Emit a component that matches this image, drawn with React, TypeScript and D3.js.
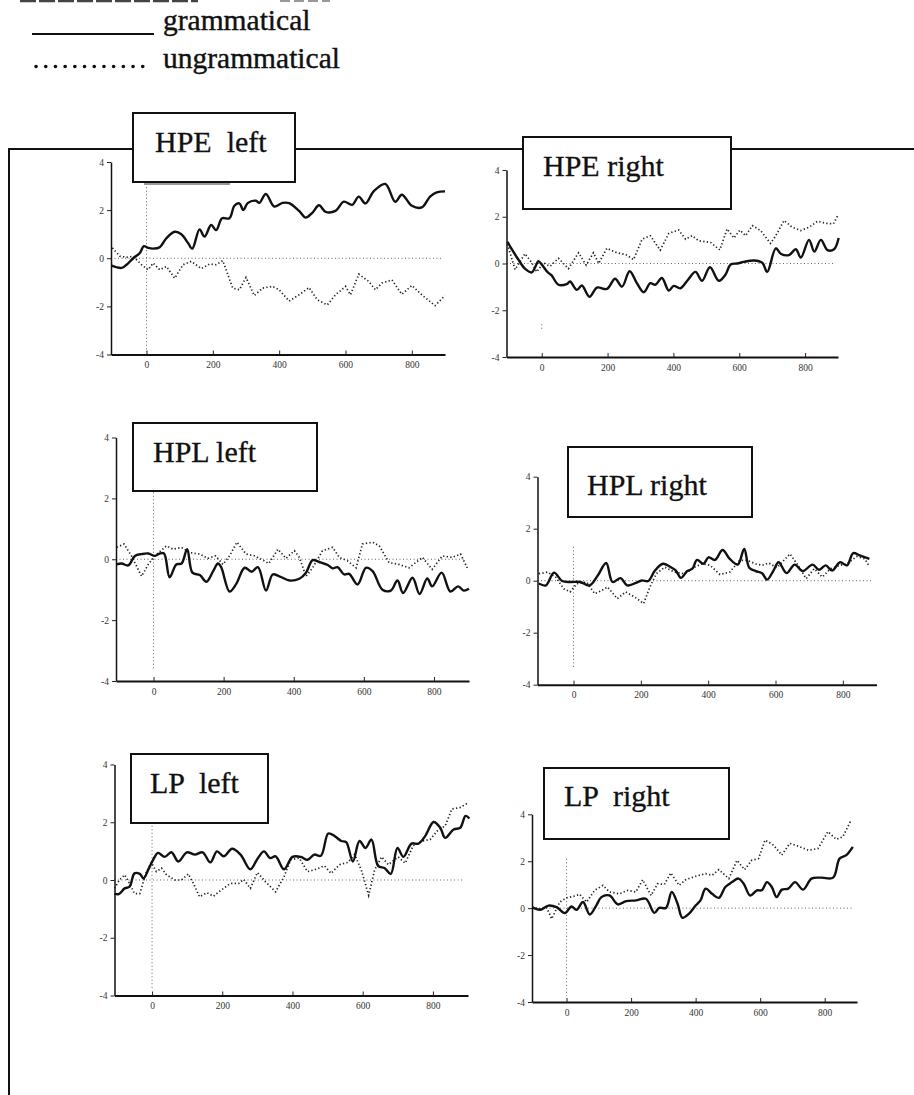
import React, { useEffect, useRef } from 'react';
import * as d3 from 'd3';

type Pt = [number, number]; // [ms, µV]

const panelTitles = ['HPE  left', 'HPE right', 'HPL left', 'HPL right', 'LP  left', 'LP  right'];
const legendLabels = ['grammatical', 'ungrammatical'];
const timeTicks = [0, 200, 400, 600, 800];
const voltTicks = [-4, -2, 0, 2, 4];

// --- HPE left ---
const hpeLeftGram: Pt[] = [[-105,-0.31],[-75,-0.4],[-60,-0.27],[-40,0],[-20,0.22],[-8,0.5],[5,0.43],[20,0.4],[40,0.46],[60,0.83],[85,1.1],[105,1.0],[125,0.64],[138,0.4],[160,1.2],[175,0.9],[195,1.38],[210,1.17],[228,1.66],[250,1.66],[265,2.18],[280,2.28],[292,2.0],[305,2.29],[330,2.39],[340,2.3],[360,2.67],[385,2.15],[410,2.3],[430,2.29],[460,1.97],[480,1.69],[500,1.89],[520,2.2],[540,1.93],[570,1.97],[595,2.35],[620,2.22],[640,2.56],[660,2.28],[685,2.78],[720,3.09],[750,2.35],[770,2.64],[800,2.18],[830,2.11],[855,2.56],[875,2.74],[900,2.78]];
const hpeLeftUngram: Pt[] = [[-103,0.43],[-80,0.08],[-60,0.04],[-40,0.08],[-15,-0.27],[5,-0.48],[20,-0.2],[40,-0.48],[60,-0.34],[85,-0.83],[110,-0.27],[135,-0.13],[165,-0.43],[190,-0.24],[210,-0.27],[230,-0.1],[260,-1.24],[280,-1.31],[300,-0.8],[325,-1.55],[350,-1.24],[380,-1.17],[400,-1.31],[430,-1.78],[460,-1.52],[490,-1.22],[515,-1.73],[545,-1.94],[570,-1.52],[600,-1.17],[615,-1.52],[640,-0.66],[670,-0.96],[690,-1.31],[710,-1.03],[740,-0.9],[770,-1.5],[800,-1.13],[830,-1.52],[870,-1.97],[900,-1.55]];

// --- HPE right ---
const hpeRightGram: Pt[] = [[-104,0.93],[-91,0.61],[-71,0.17],[-51,-0.22],[-30,-0.38],[-20,-0.16],[-10,0.1],[0,-0.04],[17,-0.36],[30,-0.51],[51,-0.91],[76,-0.88],[86,-0.77],[107,-1.13],[122,-0.94],[145,-1.42],[168,-1.03],[198,-1.09],[223,-0.65],[244,-0.99],[267,-0.33],[289,-0.84],[310,-1.23],[330,-0.84],[345,-0.91],[365,-0.62],[386,-1.16],[401,-0.96],[421,-1.06],[442,-0.74],[467,-0.36],[487,-0.74],[511,-0.16],[538,-0.74],[558,-0.48],[574,-0.04],[594,0],[614,0.07],[645,0.13],[670,0.03],[685,-0.36],[711,0.65],[726,0.42],[751,0.36],[772,0.61],[787,0.25],[812,1.01],[828,0.51],[848,1.01],[868,0.57],[888,0.61],[902,1.09]];
const hpeRightUngram: Pt[] = [[-104,0.83],[-81,-0.26],[-51,0.42],[-30,0.03],[-15,-0.36],[5,0.03],[25,-0.12],[51,0.22],[81,-0.22],[112,0.46],[135,-0.07],[157,0.46],[173,0],[198,0.65],[228,0.46],[254,0.39],[279,0.17],[305,1.04],[330,1.19],[360,0.57],[386,1.29],[416,1.43],[437,1.04],[457,1.19],[477,0.97],[513,0.9],[541,0.58],[563,1.48],[584,1.09],[602,1.43],[619,1.19],[640,1.62],[665,1.41],[695,0.86],[711,1.19],[736,1.84],[761,1.55],[787,1.41],[812,1.55],[838,1.81],[863,1.72],[886,1.7],[901,2.1]];

// --- HPL left ---
const hplLeftGram: Pt[] = [[-106,-0.17],[-91,-0.14],[-72,-0.2],[-53,0.11],[-34,0.17],[-15,0.19],[4,0.11],[18,0.19],[30,0.19],[46,-0.59],[65,-0.17],[80,-0.14],[96,0.33],[111,-0.44],[132,-0.52],[151,-0.74],[170,-0.39],[184,-0.14],[193,-0.26],[217,-1.06],[236,-0.81],[260,-0.28],[280,-0.41],[298,-0.26],[321,-1.03],[340,-0.5],[359,-0.56],[388,-0.7],[416,-0.64],[435,-0.44],[454,-0.03],[473,-0.09],[497,-0.19],[511,-0.3],[525,-0.26],[544,-0.5],[558,-0.48],[582,-0.83],[606,-0.28],[625,-0.39],[653,-1.0],[677,-1.03],[696,-0.7],[712,-1.11],[739,-0.61],[759,-1.14],[781,-0.63],[795,-0.89],[822,-0.44],[847,-1.06],[869,-0.89],[885,-1.03],[900,-0.97]];
const hplLeftUngram: Pt[] = [[-105,0.39],[-84,0.5],[-63,0.11],[-34,-0.56],[-15,-0.17],[4,0.11],[37,0.44],[56,0.33],[80,0.39],[103,0.22],[132,0.17],[155,0.03],[177,0.11],[198,-0.17],[217,0.11],[238,0.56],[264,0.17],[288,0.11],[312,-0.03],[329,-0.14],[355,0.33],[378,0.03],[402,0.28],[416,0.06],[435,-0.56],[454,-0.28],[482,0.28],[511,0.39],[530,0.06],[554,-0.06],[578,-0.28],[596,0.5],[625,0.56],[644,0.44],[672,-0.11],[700,-0.17],[729,-0.28],[767,0.06],[795,-0.33],[824,0.11],[852,0.06],[876,0.17],[895,-0.28]];

// --- HPL right ---
const hplRightGram: Pt[] = [[-103,-0.11],[-82,-0.18],[-58,0.31],[-34,-0.01],[-10,-0.05],[19,-0.05],[48,-0.18],[72,0.2],[97,0.68],[116,-0.05],[140,0.1],[159,-0.18],[184,-0.09],[203,0.01],[222,-0.01],[242,0.39],[266,0.65],[285,0.55],[304,0.39],[319,0.11],[338,0.37],[353,0.46],[367,0.8],[386,0.65],[401,0.9],[420,0.8],[443,1.18],[464,0.84],[488,0.62],[507,1.22],[522,0.5],[541,0.37],[560,0.29],[575,0.04],[594,0.39],[609,0.71],[633,0.29],[657,0.62],[681,0.37],[710,0.62],[729,0.42],[749,0.59],[768,0.39],[792,0.71],[812,0.59],[831,1.06],[850,0.97],[879,0.84]];
const hplRightUngram: Pt[] = [[-103,0.27],[-77,0.33],[-53,0.14],[-29,-0.31],[-10,-0.43],[10,-0.11],[39,-0.05],[63,-0.5],[82,-0.39],[101,-0.24],[130,-0.69],[155,-0.43],[184,-0.65],[208,-0.88],[227,-0.24],[246,0.27],[271,0.52],[300,0.33],[329,0.27],[357,0.5],[382,0.65],[406,0.59],[435,0.24],[464,0.33],[493,0.78],[517,0.78],[541,0.65],[560,0.59],[580,0.68],[604,0.5],[643,1.03],[667,0.59],[691,0.08],[715,0.46],[739,0.14],[763,0.46],[792,0.59],[812,0.65],[841,0.93],[865,0.84],[879,0.55]];

// --- LP left ---
const lpLeftGram: Pt[] = [[-107,-0.47],[-95,-0.49],[-78,-0.29],[-64,-0.23],[-50,0.23],[-35,0.21],[-24,0.06],[-11,0.35],[3,0.7],[17,0.94],[36,0.8],[55,0.96],[75,0.64],[99,0.96],[122,0.88],[144,0.96],[166,0.61],[185,0.99],[204,0.82],[228,1.08],[252,0.88],[280,0.37],[300,0.73],[319,0.99],[336,0.76],[352,0.82],[376,0.37],[400,0.8],[424,0.8],[443,0.7],[462,0.88],[481,0.84],[502,1.61],[520,1.52],[539,1.35],[553,1.31],[572,0.64],[591,1.35],[608,1.11],[625,1.4],[644,0.49],[663,0.41],[680,0.21],[699,1.11],[716,0.8],[739,1.26],[759,1.26],[778,1.52],[802,2.01],[821,1.81],[835,1.46],[859,1.75],[878,1.81],[893,2.22],[904,2.13]];
const lpLeftUngram: Pt[] = [[-107,-0.29],[-93,0],[-78,0.18],[-64,-0.12],[-50,-0.47],[-35,-0.47],[-16,0.29],[-2,0.61],[12,0.29],[27,0.41],[41,0.18],[65,0],[84,0],[103,0.21],[118,-0.12],[135,-0.58],[156,-0.44],[175,-0.56],[199,-0.33],[223,-0.12],[247,-0.12],[261,0.02],[280,-0.29],[300,0.26],[323,-0.06],[352,-0.41],[376,0.12],[395,0.7],[419,0.76],[443,0.29],[467,0.37],[491,0.49],[510,0.23],[534,0.53],[558,0.61],[577,0.88],[596,0.35],[617,-0.53],[634,0.35],[654,0.8],[673,0.53],[701,0.8],[721,0.58],[744,1.19],[768,1.35],[792,1.4],[816,1.75],[835,1.87],[854,2.46],[878,2.51],[902,2.69]];

// --- LP right ---
const lpRightGram: Pt[] = [[-106,0.04],[-82,-0.07],[-56,0.11],[-31,0.04],[-5,-0.21],[15,0.07],[31,-0.07],[51,0.26],[72,-0.27],[92,0.11],[108,0.47],[133,0.54],[159,0.16],[185,0.3],[215,0.33],[246,0.4],[272,-0.2],[287,0.01],[308,0.01],[326,0.69],[344,0.19],[359,-0.41],[379,-0.24],[400,0.11],[415,0.33],[431,0.83],[451,0.61],[472,0.44],[492,0.9],[513,1.11],[533,1.26],[549,1.04],[569,0.54],[590,0.76],[605,0.76],[621,1.11],[636,0.9],[651,0.47],[667,0.79],[687,0.83],[708,1.11],[733,0.79],[759,1.26],[790,1.3],[826,1.3],[846,2.11],[867,2.26],[887,2.61]];
const lpRightUngram: Pt[] = [[-106,0.04],[-82,-0.03],[-62,0.04],[-46,-0.46],[-21,0.26],[0,0.44],[21,0.5],[41,0.59],[62,0.26],[87,0.76],[113,0.97],[133,0.69],[164,0.61],[190,0.76],[215,0.69],[236,1.21],[262,0.54],[282,1.04],[303,1.01],[323,1.5],[349,0.97],[369,1.21],[400,1.36],[431,1.47],[451,1.4],[472,1.64],[503,1.26],[528,2.04],[552,1.64],[574,2.04],[595,2.11],[615,2.9],[641,2.69],[667,2.26],[692,2.76],[718,2.64],[749,2.47],[779,2.54],[810,3.26],[836,2.93],[856,3.04],[882,3.76]];

// extent of the dotted t = 0 marker in each panel (µV, top then bottom)
const onsetSpans: Pt[] = [[3.1, -3.9], [-2.6, -2.8], [2.2, -3.6], [1.3, -3.4], [2.0, -3.8], [2.1, -3.75]];

const grammaticalSeries = [hpeLeftGram, hpeRightGram, hplLeftGram, hplRightGram, lpLeftGram, lpRightGram];
const ungrammaticalSeries = [hpeLeftUngram, hpeRightUngram, hplLeftUngram, hplRightUngram, lpLeftUngram, lpRightUngram];

// pixel layout of each small chart and its title box
const layouts = [
  { xr: [111, 445], yr: [354.5, 162], box: [133, 113, 162, 69], tx: [155, 152] },
  { xr: [506.5, 838], yr: [357, 170], box: [523, 137, 208, 72], tx: [543, 176] },
  { xr: [116, 469], yr: [681, 437.5], box: [133, 423, 184, 68], tx: [153, 462] },
  { xr: [537.5, 876.5], yr: [684.7, 476.7], box: [568, 447, 184, 70], tx: [587, 495] },
  { xr: [114.5, 468], yr: [995.5, 764.5], box: [131, 754, 137, 69], tx: [150, 793] },
  { xr: [532, 857], yr: [1002, 814.3], box: [544, 768, 185, 71], tx: [564, 806] },
];

const serif = '"Liberation Serif", "Times New Roman", serif';

const App = () => {
  const svgRef = useRef<SVGSVGElement>(null);

  useEffect(() => {
    const svg = d3.select(svgRef.current);
    svg.selectAll('*').remove();

    // scraps of the cut-off line at the very top
    svg.append('line').attr('x1', 20).attr('x2', 198).attr('y1', 1).attr('y2', 1)
      .attr('stroke', '#444').attr('stroke-width', 2.5).attr('stroke-dasharray', '16 3');
    svg.append('line').attr('x1', 280).attr('x2', 330).attr('y1', 1).attr('y2', 1)
      .attr('stroke', '#999').attr('stroke-width', 2).attr('stroke-dasharray', '10 4');

    // --- legend ---
    const legend = svg.append('g');
    legend.append('line').attr('x1', 32).attr('x2', 154).attr('y1', 34).attr('y2', 34)
      .attr('stroke', '#111').attr('stroke-width', 2);
    legend.append('line').attr('x1', 36).attr('x2', 152).attr('y1', 66.5).attr('y2', 66.5)
      .attr('stroke', '#111').attr('stroke-width', 3.6).attr('stroke-linecap', 'round')
      .attr('stroke-dasharray', '0.1 9.6');
    legend.selectAll('text').data(legendLabels).join('text')
      .attr('x', 163).attr('y', (d, i) => (i === 0 ? 30 : 68))
      .attr('font-family', serif).attr('font-size', 29.5).attr('fill', '#111')
      .attr('stroke', '#111').attr('stroke-width', 0.4)
      .text(d => d);

    // --- outer frame ---
    svg.append('path').attr('d', 'M9,1095 V149 H914').attr('fill', 'none')
      .attr('stroke', '#111').attr('stroke-width', 2);

    layouts.forEach((L, i) => {
      const x = d3.scaleLinear().domain([-107, 900]).range(L.xr);
      const y = d3.scaleLinear().domain([-4, 4]).range(L.yr);
      const g = svg.append('g');

      // dotted baseline and onset marker
      g.append('line').attr('x1', x(-107)).attr('x2', x(890)).attr('y1', y(0)).attr('y2', y(0))
        .attr('stroke', '#666').attr('stroke-width', 1).attr('stroke-dasharray', '1 2.5');
      g.append('line').attr('x1', x(0)).attr('x2', x(0))
        .attr('y1', y(onsetSpans[i][0])).attr('y2', y(onsetSpans[i][1]))
        .attr('stroke', '#666').attr('stroke-width', 1).attr('stroke-dasharray', '1 2.5');

      // axes
      const xAxis = g.append('g').attr('transform', `translate(0,${L.yr[0]})`)
        .call(d3.axisBottom(x).tickValues(timeTicks).tickSizeInner(-4).tickSizeOuter(0)
          .tickPadding(7).tickFormat(d => String(d)));
      xAxis.select('.domain').attr('stroke', '#111').attr('stroke-width', 2);
      const yAxis = g.append('g').attr('transform', `translate(${L.xr[0]},0)`)
        .call(d3.axisLeft(y).tickValues(voltTicks).tickSizeInner(4).tickSizeOuter(0)
          .tickPadding(3).tickFormat(d => String(d)));
      yAxis.select('.domain').attr('stroke', '#111').attr('stroke-width', 1.5);
      [xAxis, yAxis].forEach(a => {
        a.attr('font-family', serif).attr('font-size', 9.5);
        a.selectAll('.tick text').attr('fill', '#333');
        a.selectAll('.tick line').attr('stroke', '#222');
      });

      const smooth = d3.line<Pt>().x(d => x(d[0])).y(d => y(d[1])).curve(d3.curveCatmullRom.alpha(0.5));
      const jagged = d3.line<Pt>().x(d => x(d[0])).y(d => y(d[1]));

      g.append('path').attr('d', jagged(ungrammaticalSeries[i]))
        .attr('fill', 'none').attr('stroke', '#222').attr('stroke-width', 1.7)
        .attr('stroke-dasharray', '1.3 2.3');
      g.append('path').attr('d', smooth(grammaticalSeries[i]))
        .attr('fill', 'none').attr('stroke', '#111').attr('stroke-width', 2.4)
        .attr('stroke-linejoin', 'round');

      // title box
      const [bx, by, bw, bh] = L.box;
      if (i === 0) {
        g.append('line').attr('x1', 144).attr('x2', 230).attr('y1', by + bh + 2).attr('y2', by + bh + 2)
          .attr('stroke', '#999').attr('stroke-width', 2);
      }
      g.append('rect').attr('x', bx).attr('y', by).attr('width', bw).attr('height', bh)
        .attr('fill', 'white').attr('stroke', '#111').attr('stroke-width', 2);
      g.append('text').attr('x', L.tx[0]).attr('y', L.tx[1])
        .attr('font-family', serif).attr('font-size', 30).attr('fill', '#111')
        .attr('stroke', '#111').attr('stroke-width', 0.3)
        .style('white-space', 'pre')
        .text(panelTitles[i]);
    });
  }, []);

  return (
    <svg ref={svgRef} width={914} height={1095}
      style={{ position: 'absolute', left: 0, top: 0, background: 'white' }} />
  );
};

export default App;
